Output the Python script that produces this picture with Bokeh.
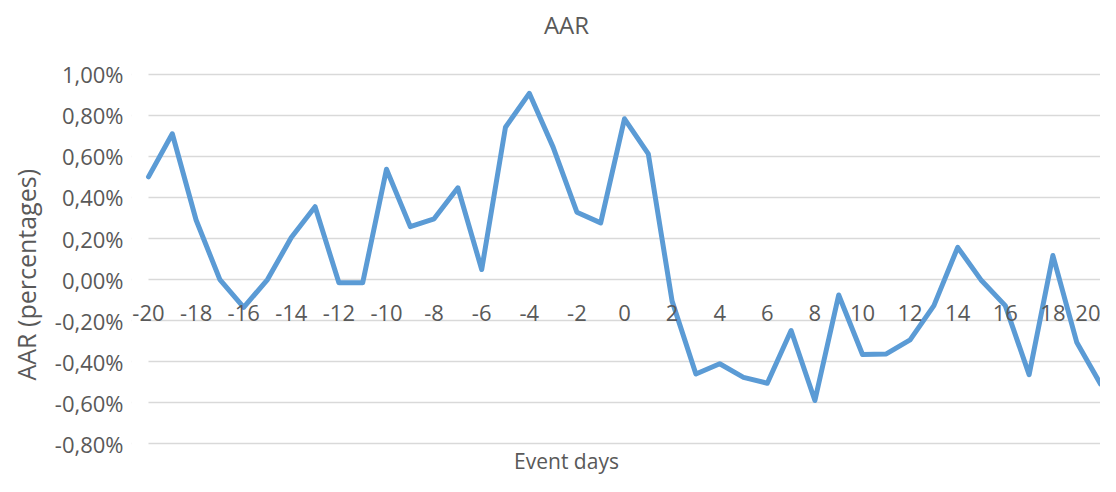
from bokeh.plotting import figure
from bokeh.models import (Range1d, FixedTicker, CustomJSTickFormatter, Label, LabelSet,
                          ColumnDataSource, BoxAnnotation, Title)
from bokeh.core.properties import value
from bokeh.embed import file_html
from bokeh.resources import INLINE

event_days = list(range(-20, 21))
aar_pct = [0.50, 0.71, 0.29, 0.00, -0.135, 0.00, 0.205, 0.355, -0.016, -0.016,
           0.537, 0.258, 0.296, 0.447, 0.049, 0.742, 0.907, 0.645, 0.328, 0.276,
           0.783, 0.612, -0.105, -0.46, -0.41, -0.476, -0.505, -0.248, -0.589, -0.075,
           -0.365, -0.362, -0.294, -0.127, 0.157, -0.005, -0.127, -0.463, 0.117, -0.305,
           -0.508]
x_ticks = list(range(-20, 21, 2))
x_tick_labels = [str(t) for t in x_ticks]
y_ticks = [-0.8, -0.6, -0.4, -0.2, 0.0, 0.2, 0.4, 0.6, 0.8, 1.0]

FONT = "Open Sans"
GREY = "#595959"

# layout: the frame spans the whole canvas height (titles are drawn inside it),
# and a little to the left of day -20 so that the "-20" label is not clipped
X_LEFT_PAD = 0.714   # in days
Y_BOTTOM = -0.959    # in %
Y_TOP = 1.359        # in %

p = figure(width=1100, height=476, output_backend="svg", toolbar_location=None,
           x_range=Range1d(event_days[0] - X_LEFT_PAD, event_days[-1]),
           y_range=Range1d(Y_BOTTOM, Y_TOP),
           min_border_left=131, min_border_right=0, min_border_top=0, min_border_bottom=0)
p.outline_line_color = None
p.background_fill_color = "white"
p.border_fill_color = "white"

# y grid
p.ygrid.ticker = FixedTicker(ticks=y_ticks)
p.ygrid.grid_line_color = "#d9d9d9"
p.ygrid.grid_line_width = 1.5
p.xgrid.visible = False

# blank strip left of day -20 (the gridlines start at the first category)
p.add_layout(BoxAnnotation(right=event_days[0], fill_color="white", fill_alpha=1.0,
                           line_color=None, level="underlay"))

src = ColumnDataSource(dict(x=event_days, y=aar_pct))
p.line("x", "y", source=src, line_color="#5B9BD5", line_width=5,
       line_join="round", line_cap="round")

# x axis labels crossing at zero
p.xaxis.visible = False
aligns = ["center"] * (len(x_ticks) - 1) + ["right"]
tick_src = ColumnDataSource(dict(x=x_ticks, y=[0] * len(x_ticks), t=x_tick_labels, a=aligns))
p.add_layout(LabelSet(x="x", y="y", text="t", source=tick_src, y_offset=-41,
                      text_align="a", text_baseline="alphabetic",
                      text_font=value(FONT), text_font_size="22px", text_color=GREY))

# y axis
ya = p.yaxis[0]
ya.ticker = FixedTicker(ticks=y_ticks)
ya.formatter = CustomJSTickFormatter(code="return tick.toFixed(2).replace('.', ',') + '%';")
ya.axis_line_color = None
ya.major_tick_line_color = None
ya.minor_tick_line_color = None
ya.major_tick_out = 0
ya.major_tick_in = 0
ya.major_label_standoff = 8
ya.major_label_text_font = FONT
ya.major_label_text_font_size = "22px"
ya.major_label_text_color = GREY

# y-axis title, placed in the left panel
p.add_layout(Title(text="AAR (percentages)", align="left", offset=96,
                   vertical_align="middle", standoff=15,
                   text_font=FONT, text_font_size="25px", text_font_style="normal",
                   text_color=GREY), "left")

# chart title and x-axis title
p.add_layout(Label(text="AAR", x=435, y=452, x_units="screen", y_units="screen",
                   text_align="center", text_baseline="alphabetic",
                   text_font=FONT, text_font_size="24px", text_color=GREY))
p.add_layout(Label(text="Event days", x=435, y=16, x_units="screen", y_units="screen",
                   text_align="center", text_baseline="alphabetic",
                   text_font=FONT, text_font_size="21px", text_color=GREY))

open("out.html", "w").write(file_html(p, INLINE))
